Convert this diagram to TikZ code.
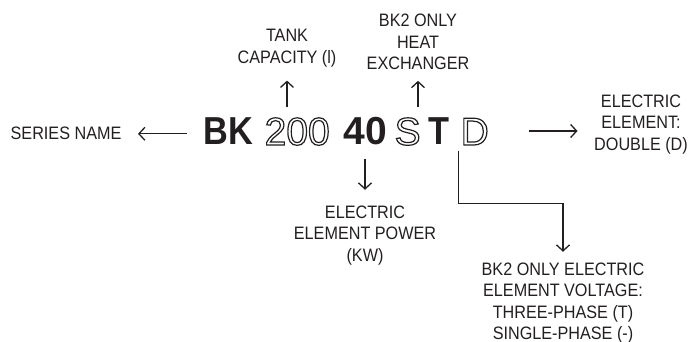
\documentclass[tikz,border=0pt]{standalone}
\usepackage{fontspec}
\setmainfont{Liberation Sans}
\newfontfamily\labfont[FakeStretch=0.9]{Liberation Sans}
\newfontfamily\bigfont{Liberation Sans}
\newfontfamily\narrowfont[FakeStretch=0.88]{Liberation Sans}
\usetikzlibrary{arrows.meta}
\definecolor{ink}{HTML}{231F20}
\newcommand\hollowtxt[1]{\special{pdf:literal direct 1 Tr 1.2 w}#1\special{pdf:literal direct 0 Tr 1.3 w}}
\begin{document}
\begin{tikzpicture}[x=1pt,y=1pt,line width=1.3pt,
  lab/.style={font=\labfont\fontsize{18}{21.5}\selectfont, align=center, inner sep=0pt, text=ink},
  code/.style={font=\bigfont\fontsize{39}{39}\selectfont, inner sep=0pt, text height=28pt, text depth=0pt, anchor=base west, text=ink},
  boldcode/.style={code, font=\bigfont\bfseries\fontsize{39}{39}\selectfont},
  narrowcode/.style={code, font=\narrowfont\bfseries\fontsize{39}{39}\selectfont},
  arr/.style={draw=ink, line width=1.3pt, -{Straight Barb[length=6pt,width=13pt]}}]
\useasboundingbox (0,0) rectangle (691,-342);
% code letters
\node[narrowcode] (bk) at (203,-145) {BK};
\node[code] (n200) at (264,-145) {\hollowtxt{200}};
\node[boldcode] (n40) at (343,-145) {40};
\node[code] (s) at (394,-145) {\hollowtxt{S}};
\node[narrowcode] (t) at (428,-145) {T};
\node[code] (d) at (460,-145) {\hollowtxt{D}};
% labels (base = baseline of the last line)
\node[lab, anchor=base west] (series) at (10,-140) {SERIES NAME};
\node[lab, anchor=base] (tank) at (287,-63.5) {TANK\\CAPACITY (l)};
\node[lab, anchor=base] (hx) at (418,-70) {BK2 ONLY\\HEAT\\EXCHANGER};
\node[lab, anchor=base] (power) at (365,-261) {ELECTRIC\\ELEMENT POWER\\(KW)};
\node[lab, anchor=base] (double) at (641,-150) {ELECTRIC\\ELEMENT:\\DOUBLE (D)};
\node[lab, anchor=base] (volt) at (563,-339.5) {BK2 ONLY ELECTRIC\\ELEMENT VOLTAGE:\\THREE-PHASE (T)\\SINGLE-PHASE (-)};
% connectors
\draw[arr, shorten <=16pt, shorten >=16pt] (bk.west |- series.east) -- (series.east);
\draw[arr, shorten <=40pt, shorten >=16pt] (d.east) -- (d.east -| double.west);
\draw[arr, shorten <=9pt, shorten >=12.7pt] (n200.north -| tank.south) -- (tank.south);
\draw[arr, shorten <=9pt, shorten >=10pt] (t.north -| hx.south) -- (hx.south);
\draw[arr, shorten <=13pt, shorten >=15pt] (n40.south -| power.north) -- (power.north);
\coordinate (tstart) at ([xshift=8pt,yshift=-5pt]t.south east);
\draw[arr, shorten >=10pt] (tstart) -- ++(0,-53) -| (volt.north);
\end{tikzpicture}
\end{document}
